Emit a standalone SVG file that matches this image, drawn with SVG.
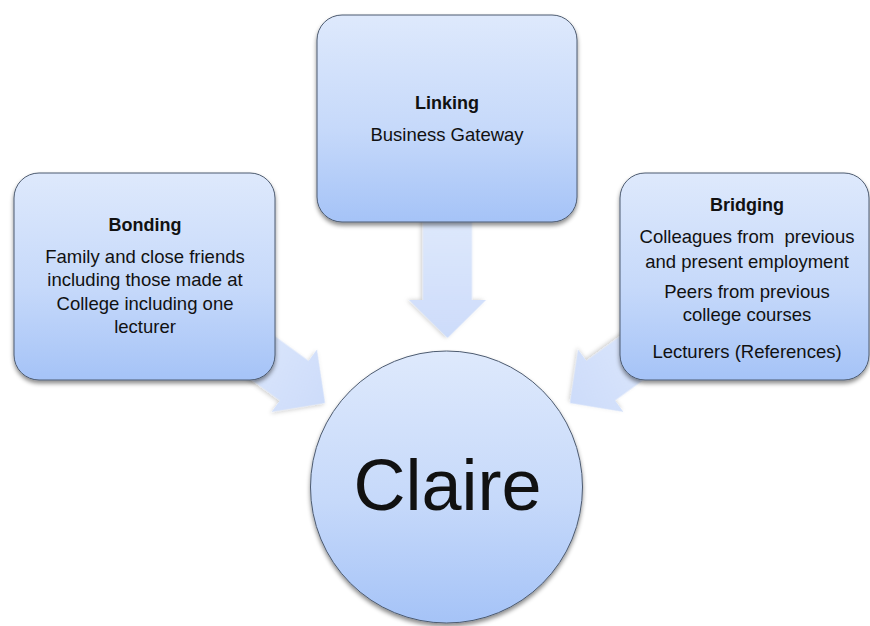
<svg xmlns="http://www.w3.org/2000/svg" width="870" height="626" viewBox="0 0 870 626">
<style>
.box{stroke:#4d5b70;stroke-width:1;fill:url(#gBox);filter:url(#sh)}
.arrow{fill:url(#gArr);filter:url(#sh2)}
text{font-family:"Liberation Sans",Arial,sans-serif;fill:#111;text-anchor:middle;white-space:pre}
.t{font-size:18px;font-weight:bold}
.b{font-size:18.5px}
.big{font-size:72px}
</style>
<defs>
<linearGradient id="gBox" x1="0" y1="0" x2="0" y2="1">
<stop offset="0" stop-color="#dee9fc"/>
<stop offset="0.55" stop-color="#c6d9fa"/>
<stop offset="1" stop-color="#a5c3f7"/>
</linearGradient>
<linearGradient id="gArr" x1="0" y1="0" x2="1" y2="0">
<stop offset="0" stop-color="#dfe9fc"/>
<stop offset="1" stop-color="#cddcfa"/>
</linearGradient>
<filter id="sh" x="-10%" y="-10%" width="120%" height="125%">
<feDropShadow dx="0" dy="3" stdDeviation="2.2" flood-color="#000" flood-opacity="0.45"/>
</filter>
<filter id="sh2" x="-20%" y="-20%" width="140%" height="140%">
<feDropShadow dx="0" dy="2" stdDeviation="2" flood-color="#000" flood-opacity="0.2"/>
</filter>
<polygon id="arr" points="-130,-24.5 -38,-24.5 -38,-38.5 0,0 -38,38.5 -38,24.5 -130,24.5"/>
</defs>
<rect width="870" height="626" fill="#fff"/>
<g id="connectors">
<use href="#arr" class="arrow" transform="translate(447.5,338) rotate(90)"/>
<use href="#arr" class="arrow" transform="translate(325,403) rotate(36)"/>
<use href="#arr" class="arrow" transform="translate(570,403) rotate(144)"/>
</g>
<g id="linking">
<rect class="box" x="317" y="15" width="260" height="207" rx="25"/>
<text class="t" x="447" y="109">Linking</text>
<text class="b" x="447" y="141">Business Gateway</text>
</g>
<g id="bonding">
<rect class="box" x="14" y="173" width="261" height="207" rx="25"/>
<text class="t" x="145" y="231">Bonding</text>
<text class="b" x="145" y="263">Family and close friends</text>
<text class="b" x="145" y="286">including those made at</text>
<text class="b" x="145" y="310">College including one</text>
<text class="b" x="145" y="333">lecturer</text>
</g>
<g id="bridging">
<rect class="box" x="620" y="173" width="249" height="207" rx="25"/>
<text class="t" x="747" y="211">Bridging</text>
<text class="b" x="747" y="243" xml:space="preserve">Colleagues from  previous</text>
<text class="b" x="747" y="268">and present employment</text>
<text class="b" x="747" y="298">Peers from previous</text>
<text class="b" x="747" y="321">college courses</text>
<text class="b" x="747" y="358">Lecturers (References)</text>
</g>
<g id="claire">
<circle class="box" cx="446.5" cy="487" r="136"/>
<text class="big" x="447.5" y="510">Claire</text>
</g>
</svg>
